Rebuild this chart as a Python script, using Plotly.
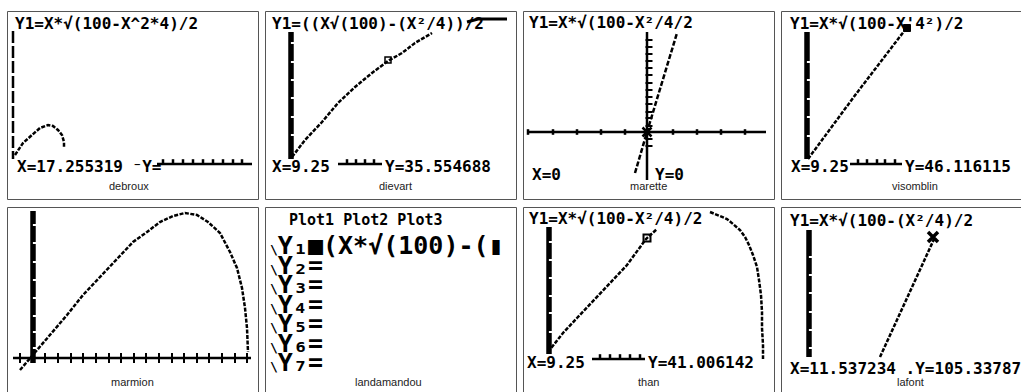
import plotly.graph_objects as go

# Eight TI-83 screenshots. Every point below was read off the picture in the
# panel's own screen units: x to the right, y downwards, 251 x 188 per panel.

captions = ["debroux", "dievart", "marette", "visomblin",
            "marmion", "landamandou", "than", "lafont"]

# --- debroux
debroux_title = "Y1=X*√(100-X^2*4)/2"
debroux_trace = "X=17.255319 ⁻Y="
debroux_curve_x = [8, 16, 25, 33, 41, 46, 51, 55, 57, 57]
debroux_curve_y = [144, 132, 124, 117, 114, 115, 119, 124, 131, 137]
debroux_yaxis = ([6, 6], [20, 148])
debroux_xaxis = ([150, 245], [153, 153])
debroux_xticks = [156, 166, 176, 186, 196, 206, 216, 226, 235]

# --- dievart
dievart_title = "Y1=((X√(100)-(X²/4))/2"
dievart_trace = ["X=9.25", "Y=35.554688"]
dievart_curve_x = [27, 40, 57, 73, 90, 107, 123, 137, 150, 167]
dievart_curve_y = [146, 129, 111, 92, 76, 62, 50, 42, 32, 22]
dievart_top_x = [202, 213, 242]
dievart_top_y = [11, 8, 8]
dievart_cursor = (123, 49)
dievart_yaxis = ([26, 26], [21, 148])
dievart_ygaps = [32, 51, 69, 87, 106, 124]
dievart_xaxis = ([73, 117], [153, 153])
dievart_xticks = [82, 91, 100, 109]

# --- marette
marette_title = "Y1=X*√(100-X²/4/2"
marette_trace = ["X=0", "Y=0"]
marette_curve_x = [112, 124, 154]
marette_curve_y = [162, 121, 22]
marette_cursor = (124, 121)
marette_xaxis = ([5, 243], [121, 121])
marette_xticks = [5, 30, 54, 78, 102, 150, 174, 198, 222]
marette_yaxis = ([124, 124], [21, 169])
marette_yticks = [29, 36, 43, 50, 57, 64, 72, 79, 86, 93, 101, 107, 115, 128, 135]

# --- visomblin
visomblin_title = "Y1=X*√(100-X'4²)/2"
visomblin_trace = ["X=9.25", "Y=46.116115"]
visomblin_curve_x = [27, 75, 124]
visomblin_curve_y = [148, 83, 19]
visomblin_cursor = (126, 17)
visomblin_yaxis = ([26, 26], [21, 148])
visomblin_ygaps = [51, 69, 88, 106, 125]
visomblin_xaxis = ([69, 121], [153, 153])
visomblin_xticks = [77, 86, 96, 104, 114]

# --- marmion
marmion_curve_x = [13, 26, 43, 60, 76, 93, 110, 126, 140, 153, 166, 178,
                   190, 201, 213, 223, 230, 235, 238, 240, 241]
marmion_curve_y = [163, 148, 128, 108, 88, 70, 51, 35, 25, 15, 9, 6,
                   8, 15, 26, 45, 61, 81, 101, 121, 145]
marmion_yaxis = ([26, 26], [4, 156])
marmion_ygaps = [18, 36, 55, 73, 91, 109, 125, 141]
marmion_xaxis = ([6, 244], [151, 151])
marmion_xticks = [13, 38, 51, 64, 76, 89, 102, 114, 127, 139, 152, 165,
                  177, 190, 202, 215, 228, 240]

# --- landamandou (Y= editor)
landamandou_plots = "Plot1 Plot2 Plot3"
landamandou_rows = ["Y₁■(X*√(100)-(▮", "Y₂=", "Y₃=", "Y₄=", "Y₅=", "Y₆=", "Y₇="]

# --- than
than_title = "Y1=X*√(100-X²/4)/2"
than_trace = ["X=9.25", "Y=41.006142"]
than_curve_x = [25, 40, 54, 70, 87, 104, 123, 134, None,
                187, 194, 204, 210, 217, 222, 226, 230, 234, 236, 238, 239, 239, 240, 240]
than_curve_y = [145, 126, 111, 94, 76, 58, 32, 22, None,
                5, 8, 12, 17, 23, 30, 38, 48, 60, 73, 88, 105, 121, 138, 152]
than_cursor = (124, 31)
than_yaxis = ([26, 26], [20, 147])
than_ygaps = [35, 53, 71, 89, 106, 125]
than_xaxis = ([69, 122], [152, 152])
than_xticks = [77, 87, 97, 107, 117]

# --- lafont
lafont_title = "Y1=X*√(100-(X²/4)/2"
lafont_trace = "X=11.537234 .Y=105.33787"
lafont_curve_x = [99, 127, 154]
lafont_curve_y = [150, 88, 30]
lafont_cursor = (152, 30)
lafont_yaxis = ([28, 28], [23, 150])
lafont_ygaps = [50, 68, 86, 105, 123, 141]


W, H = 1021, 392
PW, PH = 251, 188
ORIGINS = [(7, 11), (265, 11), (523, 11), (781, 11),
           (7, 207), (265, 207), (523, 207), (781, 207)]
CAPTION_X = [122, 130, 125, 134, 125, 123, 125, 129]
MONO = "DejaVu Sans Mono"
DOTS = "4px,1.5px"

fig = go.Figure()


def refs(i):
    k = "" if i == 1 else str(i)
    return "x" + k, "y" + k


def add_line(i, xs, ys, width=2.5, dash="solid", color="black"):
    xr, yr = refs(i)
    fig.add_trace(go.Scatter(x=xs, y=ys, xaxis=xr, yaxis=yr, mode="lines",
                             line=dict(color=color, width=width, dash=dash),
                             hoverinfo="skip", showlegend=False))


def add_marks(i, xs, ys, symbol, size, width=2, color="black"):
    xr, yr = refs(i)
    fig.add_trace(go.Scatter(x=xs, y=ys, xaxis=xr, yaxis=yr, mode="markers",
                             marker=dict(symbol=symbol, size=size, color=color,
                                         line=dict(color=color, width=width)),
                             hoverinfo="skip", showlegend=False))


def add_text(i, x, y, s, size=16):
    xr, yr = refs(i)
    fig.add_annotation(x=x, y=y, xref=xr, yref=yr, text=s, showarrow=False,
                       xanchor="left", yanchor="middle",
                       font=dict(family=MONO, size=size, color="black", weight="bold"))


def thick_axis(i, axis, gaps):
    add_line(i, axis[0], axis[1], width=5.5)
    add_marks(i, [axis[0][0] + 2] * len(gaps), gaps, "line-ew", 3, 2, "white")


def tick_axis(i, axis, ticks, ty):
    add_line(i, axis[0], axis[1], width=2.5)
    add_marks(i, ticks, [ty] * len(ticks), "line-ns", 4, 2.5)


# panels, axes, borders, captions
for i, (ox, oy) in enumerate(ORIGINS, start=1):
    vw = min(PW, W - ox)
    vh = min(PH, H - oy)
    k = "" if i == 1 else str(i)
    fig.update_layout(**{
        "xaxis" + k: dict(domain=[ox / W, (ox + vw) / W], range=[0, vw],
                          visible=False, anchor="y" + k),
        "yaxis" + k: dict(domain=[1 - (oy + vh) / H, 1 - oy / H], range=[vh, 0],
                          visible=False, anchor="x" + k),
    })
    fig.add_shape(type="rect", xref="paper", yref="paper",
                  x0=(ox + 0.5) / W, x1=(ox + PW + 0.5) / W,
                  y0=1 - (oy + PH + 0.5) / H, y1=1 - (oy + 0.5) / H,
                  line=dict(color="#555555", width=1))
    xr, yr = refs(i)
    fig.add_annotation(x=CAPTION_X[i - 1], y=175, xref=xr, yref=yr,
                       text=captions[i - 1], showarrow=False,
                       font=dict(family="Liberation Sans", size=11, color="#222222"))

# 1 debroux
add_text(1, 6, 13, debroux_title)
add_line(1, debroux_yaxis[0], debroux_yaxis[1], width=2.5, dash="12px,3px")
add_line(1, debroux_curve_x, debroux_curve_y, dash=DOTS)
tick_axis(1, debroux_xaxis, debroux_xticks, 151)
add_text(1, 8, 156, debroux_trace)

# 2 dievart
add_text(2, 5, 13, dievart_title)
thick_axis(2, dievart_yaxis, dievart_ygaps)
add_line(2, dievart_curve_x, dievart_curve_y, dash=DOTS)
add_line(2, dievart_top_x, dievart_top_y, width=3)
add_marks(2, [dievart_cursor[0]], [dievart_cursor[1]], "square-open", 6, 1.5)
tick_axis(2, dievart_xaxis, dievart_xticks, 151)
add_text(2, 5, 156, dievart_trace[0])
add_text(2, 118, 156, dievart_trace[1])

# 3 marette
add_text(3, 4, 12, marette_title)
tick_axis(3, marette_xaxis, marette_xticks, marette_xaxis[1][0])
add_line(3, marette_yaxis[0], marette_yaxis[1], width=2.5)
add_marks(3, [126] * len(marette_yticks), marette_yticks, "line-ew", 5, 2)
add_line(3, marette_curve_x, marette_curve_y, dash="5px,2px")
add_marks(3, [marette_cursor[0]], [marette_cursor[1]], "x-thin-open", 9, 2.5)
add_text(3, 7, 164, marette_trace[0])
add_text(3, 130, 164, marette_trace[1])

# 4 visomblin
add_text(4, 7, 13, visomblin_title)
thick_axis(4, visomblin_yaxis, visomblin_ygaps)
add_line(4, visomblin_curve_x, visomblin_curve_y, dash=DOTS)
add_marks(4, [visomblin_cursor[0]], [visomblin_cursor[1]], "square", 7, 1)
tick_axis(4, visomblin_xaxis, visomblin_xticks, 151)
add_text(4, 8, 156, visomblin_trace[0])
add_text(4, 122, 156, visomblin_trace[1])

# 5 marmion
thick_axis(5, marmion_yaxis, marmion_ygaps)
add_line(5, marmion_xaxis[0], marmion_xaxis[1], width=2.5)
add_marks(5, marmion_xticks, [151] * len(marmion_xticks), "line-ns", 7, 2)
add_line(5, marmion_curve_x, marmion_curve_y, dash=DOTS)

# 6 landamandou: plot header, then the Y= rows as one block with a 19.5px pitch
add_text(6, 22, 13, landamandou_plots, size=15)
editor = ["<span style='font-size:13px'>\\</span>"
          "<span style='font-size:25px'>" + row + "</span>"
          for row in landamandou_rows]
fig.add_annotation(x=3, y=22, xref="x6", yref="y6", text="<br>".join(editor),
                   showarrow=False, xanchor="left", yanchor="top", align="left",
                   font=dict(family=MONO, size=15, color="black", weight="bold"))

# 7 than
add_text(7, 4, 12, than_title)
thick_axis(7, than_yaxis, than_ygaps)
add_line(7, than_curve_x, than_curve_y, dash=DOTS)
add_marks(7, [than_cursor[0]], [than_cursor[1]], "square-open", 7, 2)
tick_axis(7, than_xaxis, than_xticks, 150)
add_text(7, 2, 155, than_trace[0])
add_text(7, 123, 155, than_trace[1])

# 8 lafont
add_text(8, 7, 14, lafont_title)
thick_axis(8, lafont_yaxis, lafont_ygaps)
add_line(8, lafont_curve_x, lafont_curve_y, dash=DOTS)
add_marks(8, [lafont_cursor[0]], [lafont_cursor[1]], "x-thin-open", 10, 3.5)
add_text(8, 7, 161, lafont_trace)

fig.update_layout(width=W, height=H, autosize=False,
                  margin=dict(l=0, r=0, t=0, b=0),
                  paper_bgcolor="white", plot_bgcolor="white",
                  showlegend=False)

# the page's default body margin would shift the whole figure by 8px
fig.write_html("out.html", config={"displayModeBar": False},
               post_script="document.body.style.margin = '0px';")
